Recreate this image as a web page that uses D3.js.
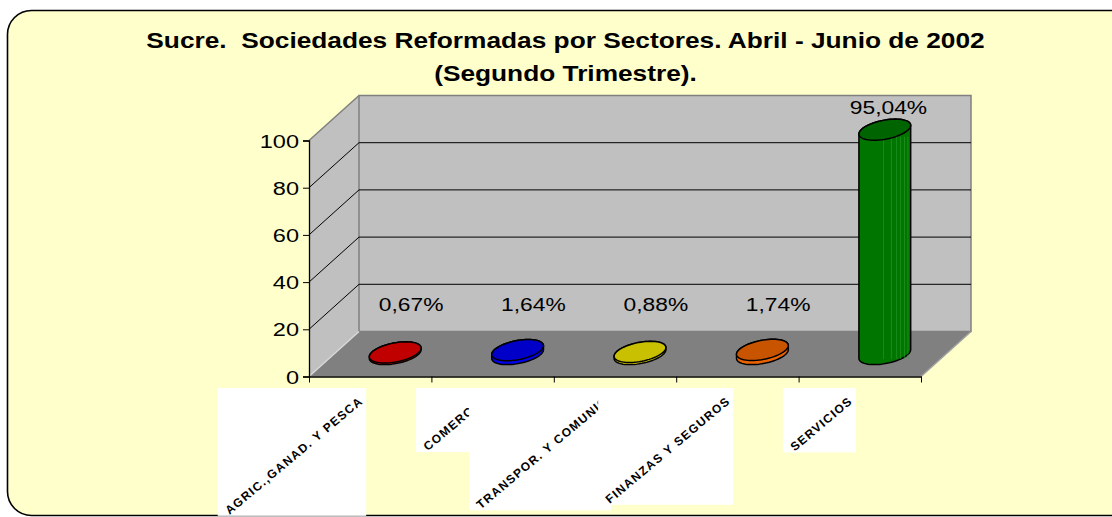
<!DOCTYPE html>
<html>
<head>
<meta charset="utf-8">
<script src="https://cdn.jsdelivr.net/npm/d3@7"></script>
<style>
  body { margin: 0; background: #fff; }
  svg { display: block; font-family: Arial, "Liberation Sans", sans-serif; }
</style>
</head>
<body>
<svg id="chart" width="1112" height="517"></svg>
<script>
// chart data
const titleLines = ["Sucre.\u00A0 Sociedades Reformadas por Sectores. Abril - Junio de 2002", "(Segundo Trimestre)."];
const categories = ["AGRIC.,GANAD. Y PESCA", "COMERCIO", "TRANSPOR. Y COMUNIC", "FINANZAS Y SEGUROS", "SERVICIOS"];
const values = [0.67, 1.64, 0.88, 1.74, 95.04];
const barColors = ["#C00000", "#0000C8", "#C8C000", "#C85400", "#006400"];
const yTicks = [0, 20, 40, 60, 80, 100];

const svg = d3.select("#chart");

// spanish number format (comma decimal)
const esFormat = d3.formatLocale({decimal: ",", thousands: ".", grouping: [3], currency: ["", ""]}).format(".2f");

// 3D box geometry
const DX = 50, DY = -45;
const x = d3.scaleBand().domain(categories).range([309, 921]);
const y = d3.scaleLinear().domain([0, 100]).range([376.5, 140.5]);
const x0 = x.range()[0], x1 = x.range()[1];

// frame
svg.append("rect")
    .attr("x", 7.5).attr("y", 10.5)
    .attr("width", 1130).attr("height", 505)
    .attr("rx", 24).attr("ry", 24)
    .attr("fill", "#FFFFCC")
    .attr("stroke", "#000")
    .attr("stroke-width", 1.6);

// title
var titleG = svg.append("g");
var t1 = titleG.append("text")
    .attr("y", 48)
    .attr("text-anchor", "middle")
    .attr("font-size", 22).attr("font-weight", "bold")
    .text(titleLines[0]);
var sx = 839 / t1.node().getComputedTextLength();
t1.attr("transform", "translate(565.5,0) scale(" + sx + ",1)");
titleG.append("text")
    .attr("y", 81)
    .attr("text-anchor", "middle")
    .attr("font-size", 22).attr("font-weight", "bold")
    .attr("transform", "translate(565.5,0) scale(" + sx + ",1)")
    .text(titleLines[1]);

/**
 * WALLS AND FLOOR
 */
var pt = (px, py) => px + "," + py;
// side wall
svg.append("polygon")
    .attr("points", [pt(x0, y(0)), pt(x0, y(100)), pt(x0 + DX, y(100) + DY), pt(x0 + DX, y(0) + DY)].join(" "))
    .attr("fill", "#C0C0C0");
// back wall
svg.append("polygon")
    .attr("points", [pt(x0 + DX, y(0) + DY), pt(x0 + DX, y(100) + DY), pt(x1 + DX, y(100) + DY), pt(x1 + DX, y(0) + DY)].join(" "))
    .attr("fill", "#C0C0C0")
    .attr("stroke", "#808080")
    .attr("stroke-width", 1.5);
// floor
svg.append("polygon")
    .attr("points", [pt(x0, y(0)), pt(x0 + DX, y(0) + DY), pt(x1 + DX, y(0) + DY), pt(x1, y(0))].join(" "))
    .attr("fill", "#808080");

// gridlines on back wall + diagonals on side wall
var gridVals = yTicks.filter(v => v > 0 && v < 100);
svg.append("g").selectAll("line")
    .data(gridVals)
    .join("line")
    .attr("x1", x0 + DX).attr("x2", x1 + DX)
    .attr("y1", v => y(v) + DY).attr("y2", v => y(v) + DY)
    .attr("stroke", "#000").attr("stroke-width", 1);
svg.append("g").selectAll("line")
    .data(gridVals)
    .join("line")
    .attr("x1", x0).attr("x2", x0 + DX)
    .attr("y1", v => y(v)).attr("y2", v => y(v) + DY)
    .attr("stroke", "#000").attr("stroke-width", 1);
// wall edges
svg.append("line")
    .attr("x1", x0).attr("y1", y(100)).attr("x2", x0 + DX).attr("y2", y(100) + DY)
    .attr("stroke", "#808080").attr("stroke-width", 1.5);
svg.append("line")
    .attr("x1", x0).attr("y1", y(0)).attr("x2", x0 + DX).attr("y2", y(0) + DY)
    .attr("stroke", "#D8D8D8").attr("stroke-width", 1.5);
svg.append("line")
    .attr("x1", x1).attr("y1", y(0)).attr("x2", x1 + DX).attr("y2", y(0) + DY)
    .attr("stroke", "#A0A0A0").attr("stroke-width", 1.5);

/**
 * AXES
 */
var yAxis = svg.append("g")
    .attr("transform", "translate(" + x0 + ",0)")
    .call(d3.axisLeft(y).tickValues(yTicks).tickSize(6).tickPadding(0).tickFormat(d3.format("d")));
yAxis.select(".domain").attr("stroke", "#000").attr("stroke-width", 1.3);
yAxis.selectAll(".tick line").attr("stroke", "#000");
yAxis.selectAll(".tick text")
    .attr("font-size", 19)
    .attr("font-family", "Arial, 'Liberation Sans', sans-serif")
    .attr("fill", "#000")
    .attr("x", 0)
    .attr("dy", "0.35em")
    .attr("transform", "translate(-10,0) scale(1.24,1)");

// bottom ticks sit on the band boundaries
var edgeScale = d3.scaleLinear().domain([0, categories.length]).range([x0, x1]);
var xAxis = svg.append("g")
    .attr("transform", "translate(0," + y(0) + ")")
    .call(d3.axisBottom(edgeScale).tickValues(d3.range(categories.length + 1)).tickSize(6).tickSizeOuter(0).tickFormat(""));
xAxis.select(".domain").attr("stroke", "#000").attr("stroke-width", 1.3);
xAxis.selectAll(".tick line").attr("stroke", "#000");

/**
 * CYLINDERS
 */
var theta = -11 * Math.PI / 180;
function ellipsePts(cx, cy, rx, ry) {
    return d3.range(0, 64).map(i => {
        var t = i / 64 * 2 * Math.PI;
        return [cx + rx * Math.cos(t) * Math.cos(theta) - ry * Math.sin(t) * Math.sin(theta),
                cy + rx * Math.cos(t) * Math.sin(theta) + ry * Math.sin(t) * Math.cos(theta)];
    });
}
var toPath = pts => "M" + pts.map(p => p[0].toFixed(2) + "," + p[1].toFixed(2)).join("L") + "Z";

var rx = x.bandwidth() * 0.215, ry = 9.5;
var bars = svg.append("g").selectAll("g")
    .data(values.map((v, i) => ({cat: categories[i], value: v, color: barColors[i]})))
    .join("g");

bars.each(function (d) {
    var g = d3.select(this);
    var cx = x(d.cat) + x.bandwidth() / 2 + DX / 2;
    var cyBase = y(0) + DY / 2;
    var cyTop = y(d.value) + DY / 2;
    var bottom = ellipsePts(cx, cyBase, rx, ry);
    var top = ellipsePts(cx, cyTop, rx, ry);
    var hull = d3.polygonHull(bottom.concat(top));
    var side = d3.color(d.color).brighter(0.45).formatHex();

    g.append("path")
        .attr("d", toPath(hull))
        .attr("fill", side)
        .attr("stroke", "#000")
        .attr("stroke-width", 1.5)
        .attr("stroke-linejoin", "round");

    // faint vertical shading strips on tall bars
    if (cyBase - cyTop > 10) {
        g.append("g").selectAll("line")
            .data([-0.05, 0.25, 0.45, 0.6, 0.75, 0.88])
            .join("line")
            .attr("x1", k => cx + k * rx).attr("x2", k => cx + k * rx)
            .attr("y1", cyTop + 7).attr("y2", cyBase + 5)
            .attr("stroke", "#2E9E2E")
            .attr("stroke-opacity", 0.7)
            .attr("stroke-width", 0.8);
    }

    g.append("path")
        .attr("d", toPath(top))
        .attr("fill", d.color)
        .attr("stroke", "#000")
        .attr("stroke-width", 1.5);

    // data label, kept clear of the floor for the small values
    var ly = Math.min(y(d.value) + DY, y(11.5) + DY);
    g.append("text")
        .attr("text-anchor", "middle")
        .attr("font-size", 19)
        .attr("fill", "#000")
        .attr("transform", "translate(" + (cx + 16 - 13 * d.value / 100) + "," + (ly + 7) + ") scale(1.2,1)")
        .text(esFormat(d.value) + "%");
});

/**
 * CATEGORY LABELS (rotated, on white boxes)
 */
var ang = 40 * Math.PI / 180;
var labels = svg.append("g").selectAll("g")
    .data(categories)
    .join("g");

labels.each(function (c) {
    var g = d3.select(this);
    var ex = x(c) + x.bandwidth() / 2 - 9, ey = 399;
    var box = g.append("rect").attr("fill", "#fff");
    var txt = g.append("text")
        .attr("text-anchor", "end")
        .attr("dy", "0.35em")
        .attr("font-size", 12)
        .attr("font-weight", "bold")
        .attr("letter-spacing", 1.3)
        .attr("fill", "#000")
        .attr("transform", "translate(" + ex + "," + ey + ") rotate(-40)")
        .text(c);
    var L = txt.node().getComputedTextLength();
    var sxp = ex - L * Math.cos(ang), syp = ey + L * Math.sin(ang);
    box.attr("x", sxp - 9).attr("y", ey - 11)
        .attr("width", ex + 5 - (sxp - 9))
        .attr("height", syp + 4 - (ey - 11));
});
</script>
</body>
</html>
